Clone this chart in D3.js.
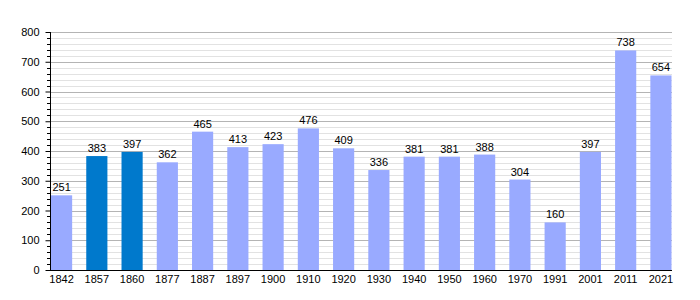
<!DOCTYPE html>
<html>
<head>
<meta charset="utf-8">
<script src="https://cdn.jsdelivr.net/npm/d3@7"></script>
<style>
  body { margin: 0; background: #fff; }
  svg { display: block; font-family: "Liberation Sans", Arial, sans-serif; }
</style>
</head>
<body>
<script>
const years = ["1842","1857","1860","1877","1887","1897","1900","1910","1920","1930","1940","1950","1960","1970","1991","2001","2011","2021"];
const population = [251,383,397,362,465,413,423,476,409,336,381,381,388,304,160,397,738,654];
const highlighted = ["1857","1860"];
const yTicks = [0,100,200,300,400,500,600,700,800];

const width = 700, height = 300;
const plotLeft = 50, plotRight = 672, plotTop = 32, plotBottom = 270;

const svg = d3.select("body").append("svg")
	.attr("width", width)
	.attr("height", height);

const x = d3.scaleBand()
	.domain(years)
	.range([51, 671.5])
	.paddingInner(0.4)
	.paddingOuter(0);

const y = d3.scaleLinear()
	.domain([0, 800])
	.range([plotBottom, plotTop]);

// minor grid every 20
const minor = d3.range(20, 801, 20).filter(v => v % 100 !== 0);
svg.append("g")
	.selectAll("line")
	.data(minor)
	.join("line")
		.attr("x1", plotLeft).attr("x2", plotRight)
		.attr("y1", d => Math.round(y(d)) + 0.5)
		.attr("y2", d => Math.round(y(d)) + 0.5)
		.attr("stroke", "#e2e2e2");

// major grid
svg.append("g")
	.selectAll("line")
	.data(yTicks.slice(1))
	.join("line")
		.attr("x1", plotLeft).attr("x2", plotRight)
		.attr("y1", d => Math.round(y(d)) + 0.5)
		.attr("y2", d => Math.round(y(d)) + 0.5)
		.attr("stroke", "#b4b4b4");

// bars
svg.append("g")
	.selectAll("rect")
	.data(years)
	.join("rect")
		.attr("x", d => x(d))
		.attr("width", x.bandwidth())
		.attr("y", (d, i) => y(population[i]))
		.attr("height", (d, i) => plotBottom - y(population[i]))
		.attr("fill", d => highlighted.includes(d) ? "#0079cc" : "#99aaff");

// value labels
svg.append("g")
	.attr("font-size", 11)
	.attr("text-anchor", "middle")
	.selectAll("text")
	.data(years)
	.join("text")
		.attr("x", d => x(d) + x.bandwidth() / 2)
		.attr("y", (d, i) => y(population[i]) - 4)
		.text((d, i) => population[i]);

// y axis
const yAxis = d3.axisLeft(y)
	.tickValues(yTicks)
	.tickSize(5)
	.tickPadding(6);

svg.append("g")
	.attr("transform", `translate(${plotLeft + 0.5},0)`)
	.call(yAxis)
	.call(g => g.select(".domain").remove())
	.call(g => g.selectAll("text").attr("font-size", 11).attr("font-family", "Liberation Sans, Arial, sans-serif").attr("fill", "#000"));

// minor ticks
svg.append("g")
	.selectAll("line")
	.data(minor)
	.join("line")
		.attr("x1", plotLeft - 3).attr("x2", plotLeft)
		.attr("y1", d => Math.round(y(d)) + 0.5)
		.attr("y2", d => Math.round(y(d)) + 0.5)
		.attr("stroke", "#000");

svg.append("line")
	.attr("x1", plotLeft + 0.5).attr("x2", plotLeft + 0.5)
	.attr("y1", plotTop).attr("y2", plotBottom + 1)
	.attr("stroke", "#000");

// x axis
svg.append("line")
	.attr("x1", plotLeft).attr("x2", plotRight)
	.attr("y1", plotBottom + 0.5).attr("y2", plotBottom + 0.5)
	.attr("stroke", "#000");

svg.append("g")
	.attr("font-size", 11)
	.attr("text-anchor", "middle")
	.selectAll("text")
	.data(years)
	.join("text")
		.attr("x", d => x(d) + x.bandwidth() / 2)
		.attr("y", 283)
		.text(d => d);
</script>
</body>
</html>
